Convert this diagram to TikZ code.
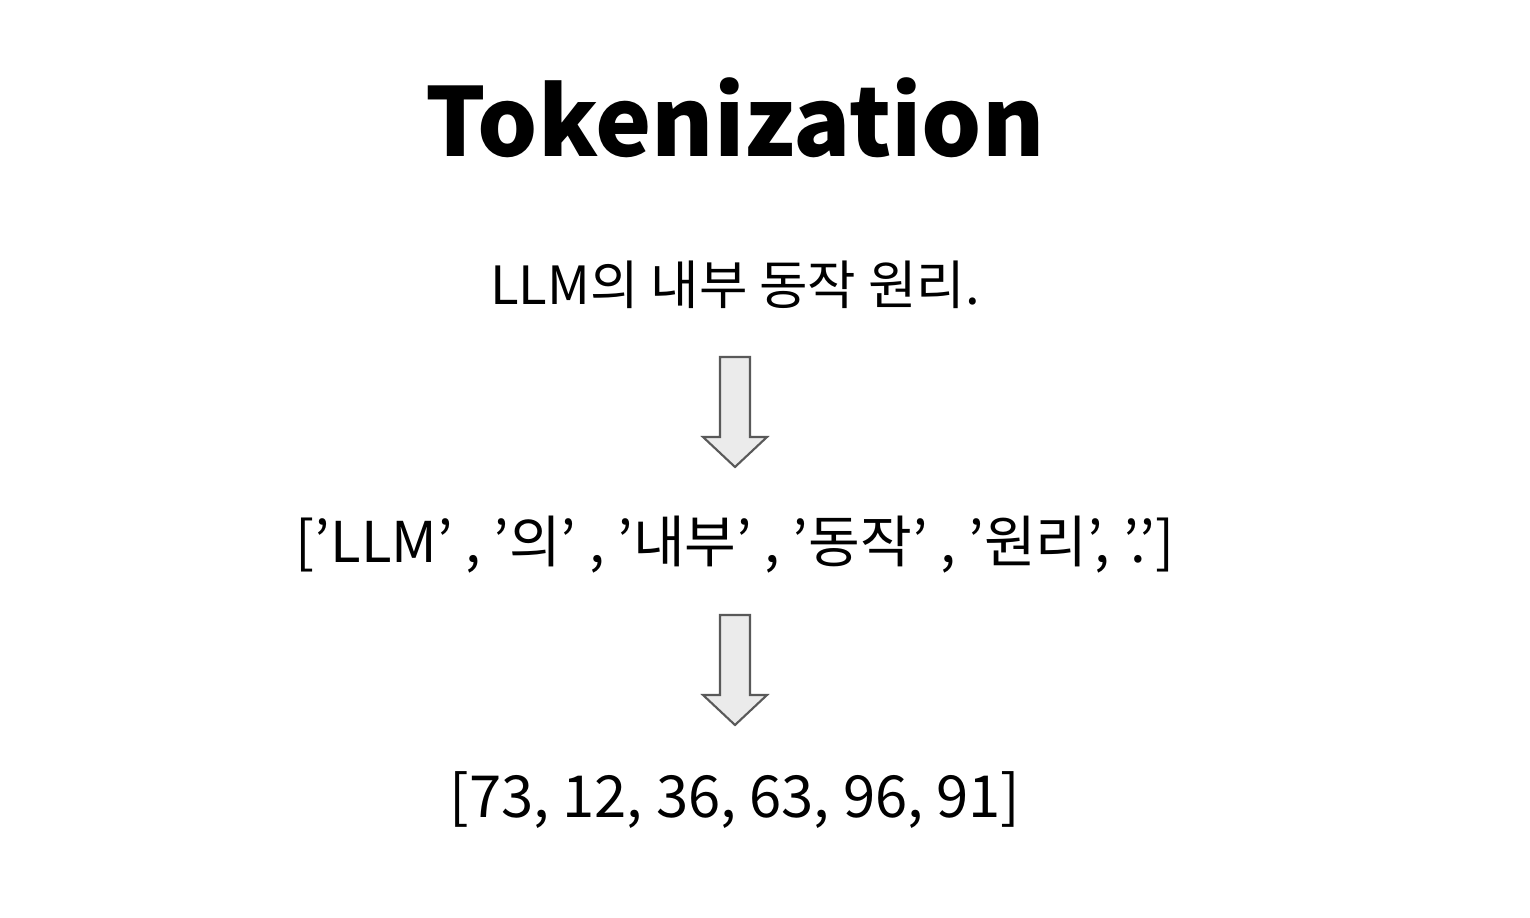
\documentclass[tikz,border=0pt]{standalone}
\usepackage{fontspec}
\setmainfont{Noto Sans CJK KR}
\newcommand\qq{\symbol{39}}
\begin{document}
\begin{tikzpicture}[x=0.02cm,y=-0.02cm,
  txt/.style={anchor=center,inner sep=0pt,font=\fontsize{30}{36}\selectfont},
  arr/.style={draw=black!65,fill=black!8,line width=1.2pt,line join=miter}]
\useasboundingbox (0,0) rectangle (1530,918);
\node[anchor=center,font=\fontsize{54}{62}\bfseries\selectfont] (title) at (735,118) {Tokenization};
\node[txt] (s) at (735,285) {LLM의 내부 동작 원리.};
\node[txt,font=\fontsize{32}{38}\selectfont] (t) at (735,545) {[\qq LLM\qq\ , \qq 의\qq\ , \qq 내부\qq\ , \qq 동작\qq\ , \qq 원리\qq , \qq .\qq ]};
\node[txt,font=\fontsize{33}{40}\selectfont] (n) at (735,800) {[73, 12, 36, 63, 96, 91]};
\draw[arr] (720,357) -- (750,357) -- (750,437) -- (767,437) -- (735,467) -- (703,437) -- (720,437) -- cycle;
\draw[arr] (720,615) -- (750,615) -- (750,695) -- (767,695) -- (735,725) -- (703,695) -- (720,695) -- cycle;
\end{tikzpicture}
\end{document}
